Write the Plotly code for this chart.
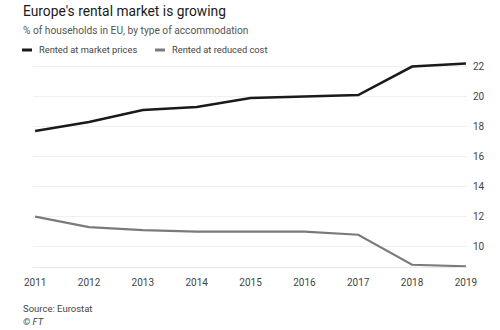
import plotly.graph_objects as go

years = [2011, 2012, 2013, 2014, 2015, 2016, 2017, 2018, 2019]
market = [17.7, 18.3, 19.1, 19.3, 19.9, 20.0, 20.1, 22.0, 22.2]
reduced = [12.0, 11.3, 11.1, 11.0, 11.0, 11.0, 10.8, 8.8, 8.7]
series_names = ["Rented at market prices", "Rented at reduced cost"]
series_colors = ["#1a1a1a", "#7a7a7a"]
y_ticks = [10, 12, 14, 16, 18, 20, 22]

W, H = 500, 330
L, R, T, B = 33, 33, 59, 63
pw = W - L - R
ph = H - T - B

def px(x):
    return (x - L) / pw

def py(y):
    return 1 - (y - T) / ph

FONT = "Roboto"

fig = go.Figure()
fig.add_trace(go.Scatter(x=years, y=market, mode="lines", name=series_names[0],
                         line=dict(color=series_colors[0], width=2.6), showlegend=False))
fig.add_trace(go.Scatter(x=years, y=reduced, mode="lines", name=series_names[1],
                         line=dict(color=series_colors[1], width=2.2), showlegend=False))

annotations = [
    dict(text="Europe's rental market is growing", x=px(21), y=py(11), xref="paper", yref="paper",
         xanchor="left", yanchor="middle", showarrow=False,
         font=dict(family=FONT, size=13.8, color="#1a1a1a")),
    dict(text="% of households in EU, by type of accommodation", x=px(21), y=py(30), xref="paper", yref="paper",
         xanchor="left", yanchor="middle", showarrow=False,
         font=dict(family=FONT, size=10.2, color="#555555")),
    dict(text=series_names[0], x=px(37), y=py(50), xref="paper", yref="paper",
         xanchor="left", yanchor="middle", showarrow=False,
         font=dict(family=FONT, size=9.3, color="#444444")),
    dict(text=series_names[1], x=px(170), y=py(50), xref="paper", yref="paper",
         xanchor="left", yanchor="middle", showarrow=False,
         font=dict(family=FONT, size=9.3, color="#444444")),
    dict(text="Source: Eurostat", x=px(21), y=py(308), xref="paper", yref="paper",
         xanchor="left", yanchor="middle", showarrow=False,
         font=dict(family=FONT, size=9.5, color="#444444")),
    dict(text="<i>© FT</i>", x=px(21), y=py(321), xref="paper", yref="paper",
         xanchor="left", yanchor="middle", showarrow=False,
         font=dict(family=FONT, size=9.5, color="#444444")),
]

shapes = [
    dict(type="line", xref="paper", yref="paper", x0=px(22), x1=px(32), y0=py(50), y1=py(50),
         line=dict(color=series_colors[0], width=3)),
    dict(type="line", xref="paper", yref="paper", x0=px(155), x1=px(165), y0=py(50), y1=py(50),
         line=dict(color=series_colors[1], width=3)),
]

fig.update_layout(
    width=W, height=H,
    margin=dict(l=L, r=R, t=T, b=B),
    paper_bgcolor="white", plot_bgcolor="white",
    annotations=annotations, shapes=shapes,
    showlegend=False,
    xaxis=dict(range=[2010.96, 2019.02], tickvals=years, ticktext=[str(y) for y in years],
               showgrid=False, zeroline=False, showline=True, linecolor="#e6e6e6", linewidth=1,
               ticks="", ticklabelstandoff=6, tickfont=dict(family=FONT, size=10, color="#444444")),
    yaxis=dict(range=[8.65, 22.5], tickvals=y_ticks, side="right",
               showgrid=True, gridcolor="#f0f0f0", gridwidth=1, zeroline=False, showline=False,
               ticks="", ticklabelstandoff=5, tickfont=dict(family=FONT, size=10, color="#444444")),
)

fig.write_html("out.html")
